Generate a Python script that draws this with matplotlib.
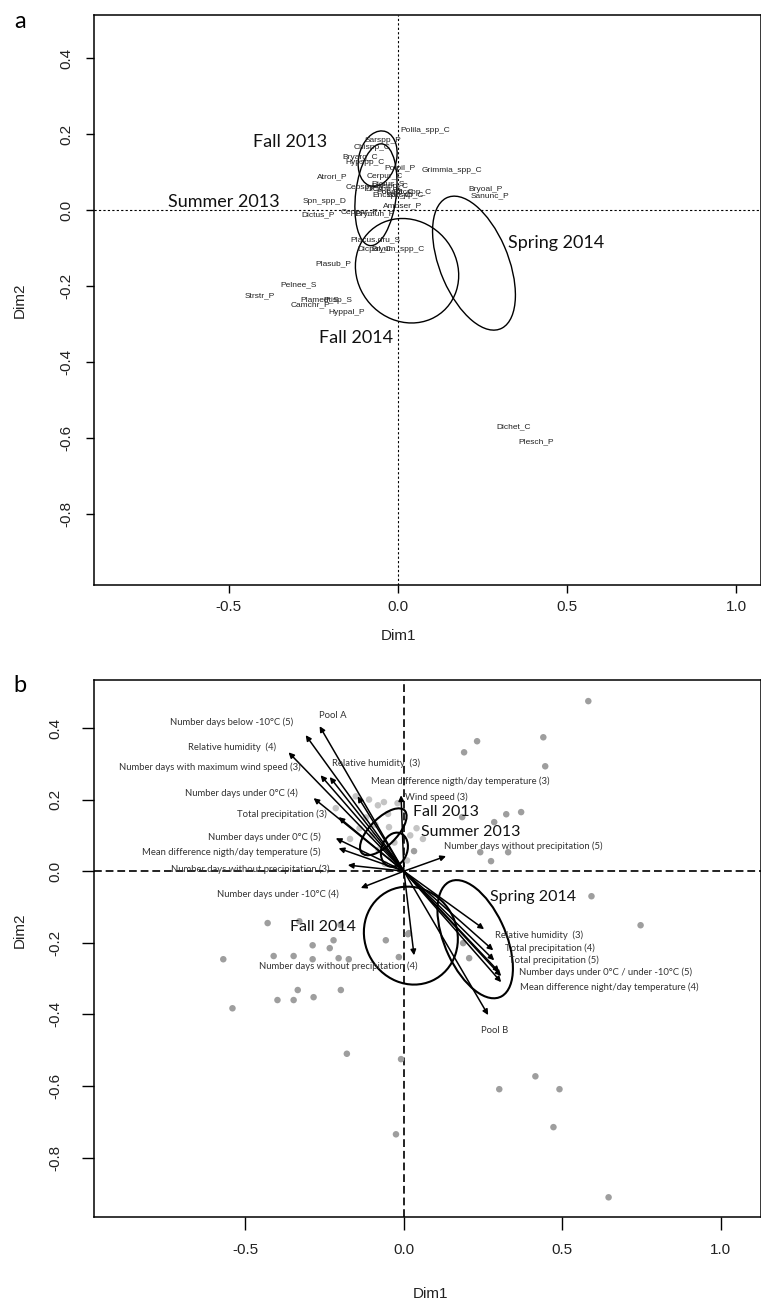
import matplotlib
matplotlib.use("Agg")
import matplotlib.pyplot as plt
from matplotlib.patches import Ellipse

plt.rcParams['axes.unicode_minus'] = False
TICKFONT = ['Liberation Sans Narrow', 'Liberation Sans', 'DejaVu Sans']
LABFONT = ['Lato', 'DejaVu Sans']

# ---- panel a : species (text only) ----
sp_names = ['Polila_spp_C', 'Sarspp_P', 'Chispp_C', 'Bryarg_C', 'Hypspp_C', 'Atrori_P',
            'Polpil_P', 'Grimmia_spp_C', 'Cerpur_C', 'Cepspp_P', 'Bryspp_C', 'Pohnut_C',
            'Dicspp_S', 'Barspp_C', 'Encspp_C', 'Racspp_C', 'Dicfus_S', 'Spn_spp_D',
            'Ambser_P', 'Dictus_P', 'Ceppur_P', 'Brymuh_P', 'Placus.dru_S', 'Dicpal_C',
            'Bryum_spp_C', 'Plasub_P', 'Pelnee_S', 'Strstr_P', 'Plamed_S', 'Ptisp_S',
            'Camchr_P', 'Hyppal_P', 'Bryoal_P', 'Sanunc_P', 'Dichet_C', 'Plesch_P']
sp_x = [0.080, -0.044, -0.077, -0.112, -0.098, -0.195, 0.006, 0.160, -0.038, -0.098,
        -0.024, -0.009, -0.044, 0.021, -0.018, 0.041, -0.030, -0.216, 0.015, -0.237,
        -0.112, -0.068, -0.068, -0.068, 0.0, -0.192, -0.293, -0.408, -0.231, -0.178,
        -0.260, -0.151, 0.260, 0.272, 0.343, 0.410]
sp_y = [0.208, 0.182, 0.163, 0.139, 0.126, 0.087, 0.108, 0.105, 0.087, 0.058,
        0.061, 0.047, 0.053, 0.039, 0.037, 0.047, 0.068, 0.021, 0.011, -0.013,
        -0.008, -0.013, -0.079, -0.103, -0.103, -0.142, -0.197, -0.226, -0.237, -0.239,
        -0.250, -0.271, 0.053, 0.037, -0.570, -0.610]

seasons = ['Fall 2013', 'Summer 2013', 'Fall 2014', 'Spring 2014']
# ellipses (center x, center y, width, height, angle)
ell_a_cx = [-0.060, -0.065, 0.027, 0.225]
ell_a_cy = [0.135, 0.040, -0.160, -0.140]
ell_a_w = [0.11, 0.12, 0.31, 0.38]
ell_a_h = [0.15, 0.27, 0.27, 0.20]
ell_a_ang = [-20, -8, -20, -64]
lab_a_x = [-0.320, -0.515, -0.124, 0.467]
lab_a_y = [0.179, 0.021, -0.337, -0.087]

# ---- panel b : sites + arrows ----
pt_x = [0.582, 0.440, 0.231, 0.190, 0.446, 0.370, 0.323, 0.285, 0.184, 0.032, 0.241,
        0.275, 0.329, 0.592, 0.747, 0.187, 0.206, 0.013, -0.430, -0.570, -0.411,
        -0.348, -0.288, -0.234, -0.222, -0.288, -0.206, -0.174, -0.335, -0.399, -0.348,
        -0.285, -0.199, -0.057, -0.016, 0.016, -0.541, -0.180, -0.009, 0.415, 0.301,
        0.491, 0.472, -0.025, 0.646, -0.330, -0.200]
pt_y = [0.475, 0.374, 0.363, 0.332, 0.293, 0.165, 0.159, 0.137, 0.151, 0.056, 0.053,
        0.028, 0.053, -0.070, -0.151, -0.201, -0.243, -0.176, -0.145, -0.246, -0.237,
        -0.237, -0.207, -0.215, -0.193, -0.246, -0.243, -0.246, -0.332, -0.360, -0.360,
        -0.352, -0.332, -0.193, -0.240, -0.173, -0.383, -0.510, -0.525, -0.573, -0.609,
        -0.609, -0.715, -0.735, -0.911, -0.140, -0.150]
# light cluster around the origin
cl_x = [-0.152, -0.215, -0.082, -0.063, -0.047, -0.12, -0.10, -0.05, -0.03, 0.02,
        -0.08, -0.14, -0.17, -0.06, 0.01, -0.11, -0.02, 0.04, 0.06, -0.09, -0.04]
cl_y = [0.209, 0.176, 0.184, 0.193, 0.123, 0.15, 0.10, 0.16, 0.08, 0.10,
        0.06, 0.12, 0.09, 0.02, 0.03, 0.20, 0.19, 0.12, 0.09, 0.13, 0.04]

arr_names = ['Pool A', 'Number days below -10°C (5)', 'Relative humidity  (4)',
             'Number days with maximum wind speed (3)', 'Relative humidity  (3)',
             'Mean difference nigth/day temperature (3)', 'Wind speed (3)',
             'Number days under 0°C (4)', 'Total precipitation (3)',
             'Number days under 0°C (5)', 'Mean difference nigth/day temperature (5)',
             'Number days without precipitation (3)', 'Number days under -10°C (4)',
             'Number days without precipitation (4)', 'Number days without precipitation (5)',
             'Relative humidity  (3)', 'Total precipitation (4)', 'Total precipitation (5)',
             'Number days under 0°C / under -10°C (5)',
             'Mean difference night/day temperature (4)', 'Pool B']
arr_x = [-0.266, -0.310, -0.364, -0.263, -0.234, -0.146, -0.009, -0.285, -0.206, -0.215,
         -0.206, -0.177, -0.136, 0.032, 0.133, 0.253, 0.282, 0.285, 0.301, 0.307, 0.266]
arr_y = [0.405, 0.380, 0.332, 0.268, 0.263, 0.209, 0.212, 0.204, 0.151, 0.092,
         0.064, 0.017, -0.047, -0.235, 0.042, -0.162, -0.221, -0.249, -0.282, -0.310, -0.402]
txt_x = [-0.225, -0.544, -0.541, -0.614, -0.089, 0.177, 0.101, -0.513, -0.386, -0.440,
         -0.544, -0.484, -0.399, -0.206, 0.377, 0.427, 0.462, 0.472, 0.636, 0.649, 0.285]
txt_y = [0.436, 0.416, 0.346, 0.291, 0.302, 0.251, 0.207, 0.218, 0.159, 0.095,
         0.053, 0.006, -0.064, -0.265, 0.070, -0.179, -0.215, -0.249, -0.282, -0.324, -0.444]
extra_x = [0.307]  # second arrow into the 0°C / -10°C group
extra_y = [-0.293]

ell_b_cx = [-0.065, -0.030, 0.022, 0.225]
ell_b_cy = [0.110, 0.060, -0.180, -0.190]
ell_b_w = [0.18, 0.10, 0.30, 0.36]
ell_b_h = [0.08, 0.08, 0.27, 0.19]
ell_b_ang = [40, 60, -20, -62]
lab_b_x = [0.133, 0.212, -0.256, 0.408]
lab_b_y = [0.165, 0.109, -0.156, -0.073]

W, H = 761, 1306
fig = plt.figure(figsize=(W / 100, H / 100), dpi=100)


def style_axes(ax, fs, tlen, pad):
    for s in ax.spines.values():
        s.set_linewidth(1.1)
    ax.tick_params(direction='out', length=tlen, width=1, labelsize=fs, pad=pad)
    ax.tick_params(axis='y', labelrotation=90, pad=pad + 4)
    for lab in ax.get_yticklabels():
        lab.set_va('center')
    for lab in ax.get_xticklabels() + ax.get_yticklabels():
        lab.set_family(TICKFONT)
        lab.set_color('#222222')


# panel a
ax1 = fig.add_axes([94 / W, 1 - 585 / H, 667 / W, 570 / H])
ax1.set_xlim(-0.899, 1.074)
ax1.set_ylim(-0.987, 0.513)
ax1.axhline(0, color='black', lw=0.8, ls=(0, (2, 2)))
ax1.axvline(0, color='black', lw=0.8, ls=(0, (2, 2)))
for n, x, y in zip(sp_names, sp_x, sp_y):
    ax1.text(x, y, n, fontsize=6, ha='center', va='center', color='#222222',
             family=TICKFONT)
for i in range(len(seasons)):
    ax1.add_patch(Ellipse((ell_a_cx[i], ell_a_cy[i]), ell_a_w[i], ell_a_h[i],
                          angle=ell_a_ang[i], fill=False, lw=1.0, color='black'))
    ax1.text(lab_a_x[i], lab_a_y[i], seasons[i], fontsize=13, ha='center', va='center',
             family=LABFONT, color='#111111')
ax1.set_xticks([-0.5, 0.0, 0.5, 1.0])
ax1.set_yticks([0.4, 0.2, 0.0, -0.2, -0.4, -0.6, -0.8])
style_axes(ax1, 11, 6, 5)
fig.text(398 / W, 1 - 636 / H, 'Dim1', fontsize=11, ha='center', va='center',
         family=TICKFONT, color='#222222')
fig.text(20 / W, 1 - 300 / H, 'Dim2', fontsize=11, ha='center', va='center',
         rotation=90, family=TICKFONT, color='#222222')
fig.text(20 / W, 1 - 22 / H, 'a', fontsize=17, ha='center', va='center', family=LABFONT)

# panel b
ax2 = fig.add_axes([94 / W, 1 - 1217 / H, 667 / W, 537 / H])
ax2.set_xlim(-0.978, 1.127)
ax2.set_ylim(-0.966, 0.534)
ax2.axhline(0, color='#222222', lw=1.4, ls=(0, (4, 2)), zorder=1)
ax2.axvline(0, color='#222222', lw=1.4, ls=(0, (4, 2)), zorder=1)
ax2.scatter(cl_x, cl_y, s=22, color='#c4c4c4', edgecolors='none', zorder=2)
ax2.scatter(pt_x, pt_y, s=22, color='#9e9e9e', edgecolors='none', zorder=2)
for i in range(len(seasons)):
    ax2.add_patch(Ellipse((ell_b_cx[i], ell_b_cy[i]), ell_b_w[i], ell_b_h[i],
                          angle=ell_b_ang[i], fill=False, lw=1.5, color='black', zorder=3))
    ax2.text(lab_b_x[i], lab_b_y[i], seasons[i], fontsize=11.5, ha='center', va='center',
             family=LABFONT, color='#111111', zorder=5)
for x, y in zip(arr_x + extra_x, arr_y + extra_y):
    ax2.annotate('', xy=(x, y), xytext=(0, 0),
                 arrowprops=dict(arrowstyle='-|>', color='black', lw=1.1,
                                 mutation_scale=8, shrinkA=0, shrinkB=0), zorder=4)
for n, x, y in zip(arr_names, txt_x, txt_y):
    ax2.text(x, y, n, fontsize=6.8, ha='center', va='center', color='#333333',
             family=LABFONT, zorder=5)
ax2.set_xticks([-0.5, 0.0, 0.5, 1.0])
ax2.set_yticks([0.4, 0.2, 0.0, -0.2, -0.4, -0.6, -0.8])
style_axes(ax2, 11, 9, 10)
fig.text(430 / W, 1 - 1294 / H, 'Dim1', fontsize=11, ha='center', va='center',
         family=TICKFONT, color='#222222')
fig.text(20 / W, 1 - 930 / H, 'Dim2', fontsize=11, ha='center', va='center',
         rotation=90, family=TICKFONT, color='#222222')
fig.text(20 / W, 1 - 686 / H, 'b', fontsize=17, ha='center', va='center', family=LABFONT)

fig.savefig('out.png', dpi=100)
